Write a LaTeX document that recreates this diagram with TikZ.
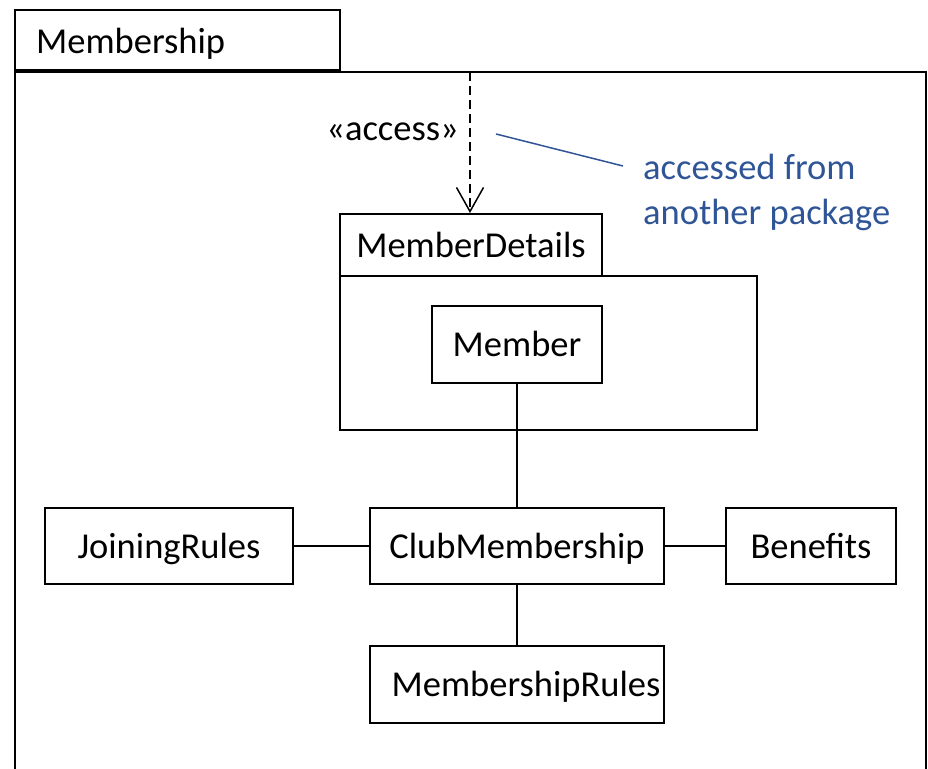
\documentclass[tikz,border=0pt]{standalone}
\usepackage{fontspec}
\setmainfont{Carlito}
\usetikzlibrary{arrows.meta}
\definecolor{noteblue}{HTML}{2F5597}
\begin{document}
\begin{tikzpicture}[x=1pt,y=-1pt,
  lbl/.style={font=\fontsize{36.5}{44}\selectfont, inner sep=0pt},
  box/.style={draw, line width=1.5pt, inner sep=0pt, text height=24.6pt, text depth=0pt, font=\fontsize{36.5}{44}\selectfont},
  conn/.style={line width=1.3pt},
  dep/.style={line width=1.5pt, dash pattern=on 9pt off 5pt, -{Straight Barb[length=24pt,width=27pt,line width=1.5pt]}},
  note/.style={noteblue, font=\fontsize{36.5}{45}\selectfont, align=left, inner sep=0pt},
  noteline/.style={noteblue, line width=1.5pt},
]
\useasboundingbox (0,0) rectangle (928,768);
% outer package
\node[box, minimum width=325pt, minimum height=60pt] (tab) at (177.5,40) {};
\node[lbl, anchor=base west] (tabtxt) at (36,53) {Membership};
\node[box, minimum width=911pt, minimum height=740pt] (frame) at (470.5,442) {};
% inner package
\node[box, minimum width=262pt, minimum height=62pt] (mdtab) at (471,245) {MemberDetails};
\node[box, minimum width=417pt, minimum height=154pt] (mdbody) at (548.5,353) {};
\node[box, minimum width=170pt, minimum height=77pt] (member) at (517,344.5) {Member};
% classes
\node[box, minimum width=294pt, minimum height=76pt] (club) at (517,546) {ClubMembership};
\node[box, minimum width=248pt, minimum height=76pt] (join) at (169,546) {JoiningRules};
\node[box, minimum width=170pt, minimum height=76pt] (ben) at (811,546) {Benefits};
\node[box, minimum width=294pt, minimum height=77pt] (rules) at (517,684.5) {\hspace{18pt}MembershipRules};
% connectors
\draw[conn] (member.south) -- (club.north);
\draw[conn] (join.east) -- (club.west);
\draw[conn] (club.east) -- (ben.west);
\draw[conn] (club.south) -- (rules.north);
% access dependency
\coordinate (depstart) at (470,72);
\coordinate (depend) at (470,213);
\draw[dep] (depstart) -- (depend);
\node[lbl, anchor=base east] (acc) at (459,140) {«access»};
% note
\node[note, anchor=north west] (notetxt) at (643,154) {accessed from\\another package};
\coordinate (nl1) at (496,134);
\coordinate (nl2) at (623,166);
\draw[noteline] (nl1) -- (nl2);
\end{tikzpicture}
\end{document}
